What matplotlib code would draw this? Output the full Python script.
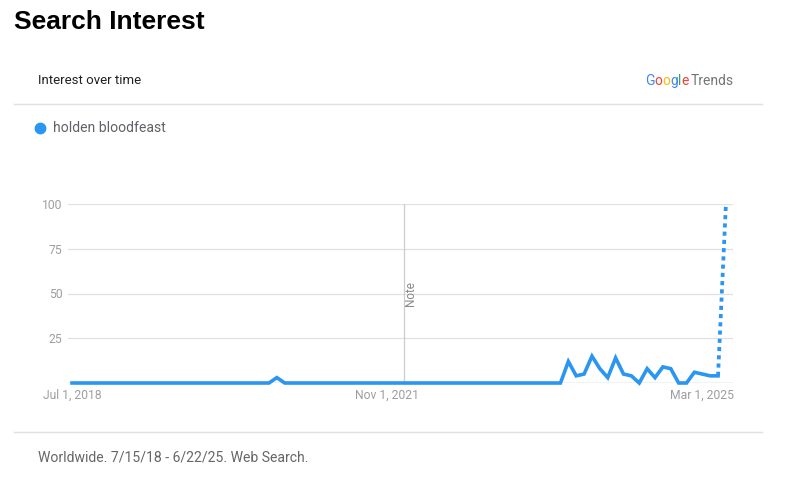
import matplotlib
matplotlib.use("Agg")
import matplotlib.pyplot as plt
from matplotlib.lines import Line2D

# ---- data (monthly, Jul 2018 .. Jun 2025) ----
values = [0] * 84
values[26] = 3
tail = {62: 0, 63: 12, 64: 4, 65: 5, 66: 15, 67: 8, 68: 3, 69: 14, 70: 5,
        71: 4, 72: 0, 73: 8, 74: 3, 75: 9, 76: 8, 77: 0, 78: 0, 79: 6,
        80: 5, 81: 4, 82: 4, 83: 100}
for k, v in tail.items():
    values[k] = v
x_idx = list(range(len(values)))
series_name = "holden bloodfeast"
xtick_pos = [0, 40, 80]
xtick_labels = ["Jul 1, 2018", "Nov 1, 2021", "Mar 1, 2025"]
ytick_vals = [25, 50, 75, 100]
note_pos = 42.1

W, H = 785, 478
fig = plt.figure(figsize=(W / 100, H / 100), dpi=100)
plt.rcParams['font.family'] = ['Roboto', 'DejaVu Sans']

def fx(px):
    return px / W

def fy(py):
    return 1 - py / H

BLUE = '#2a96f0'

# header / footer
fig.text(fx(14), fy(22), "Search Interest", fontsize=19, fontweight='bold',
         family=['Liberation Sans', 'DejaVu Sans'], color='black', va='center', ha='left')
fig.text(fx(38), fy(80), "Interest over time", fontsize=9.5, color='#202124', va='center', ha='left')
fig.add_artist(Line2D([fx(14), fx(762)], [fy(104), fy(104)], color='#e0e0e0', lw=1))
fig.add_artist(Line2D([fx(14), fx(762)], [fy(432), fy(432)], color='#e0e0e0', lw=1))
fig.text(fx(38), fy(457), "Worldwide. 7/15/18 - 6/22/25. Web Search.", fontsize=10.1,
         color='#666666', va='center', ha='left')

# legend
fig.add_artist(Line2D([fx(40)], [fy(128)], marker='o', markersize=7.5, color=BLUE, lw=0))
fig.text(fx(53), fy(128), series_name, fontsize=10.1, color='#5f6368', va='center', ha='left')

# Google Trends logo
renderer = fig.canvas.get_renderer()
letters = [("G", '#4285F4'), ("o", '#EA4335'), ("o", '#FBBC05'), ("g", '#4285F4'),
           ("l", '#34A853'), ("e", '#EA4335'), (" ", '#757575'), ("Trends", '#757575')]
cur = 645
for s, c in letters:
    if s == " ":
        cur += 2
        continue
    t = fig.text(fx(cur), fy(81), s, fontsize=10, color=c, va='center', ha='left',
                 family=['Roboto', 'DejaVu Sans'])
    bb = t.get_window_extent(renderer)
    cur += bb.width

# chart
ax = fig.add_axes([fx(68), fy(383), fx(733) - fx(68), (383 - 204) / H])
ax.set_xlim(-0.51, 83.9)
ax.set_ylim(0, 100)
for sp in ax.spines.values():
    sp.set_visible(False)
for yv in ytick_vals:
    ax.axhline(yv, color='#e0e0e0', lw=0.9, zorder=1)
ax.axhline(0, color='#9e9e9e', lw=0.9, zorder=1)
ax.axvline(note_pos, color='#cccccc', lw=0.9, zorder=1)
ax.text(note_pos + 0.9, 50, "Note", rotation=90, fontsize=8.5, color='#888888',
        va='center', ha='center')

ax.plot(x_idx[:-1], values[:-1], color=BLUE, lw=2.6, solid_joinstyle='miter', zorder=3,
        clip_on=False)
ax.plot(x_idx[-2:], values[-2:], color=BLUE, lw=2.7, linestyle=(0, (1.1, 1.1)), zorder=3,
        clip_on=False)

ax.set_yticks(ytick_vals)
ax.set_yticklabels([str(v) for v in ytick_vals])
ax.set_xticks(xtick_pos)
ax.set_xticklabels(xtick_labels)
ax.tick_params(axis='both', length=0, labelsize=8.7, labelcolor='#9e9e9e')
ax.tick_params(axis='y', pad=4)
ax.tick_params(axis='x', pad=4)
ax.set_facecolor('none')

fig.savefig("out.png", dpi=100)
